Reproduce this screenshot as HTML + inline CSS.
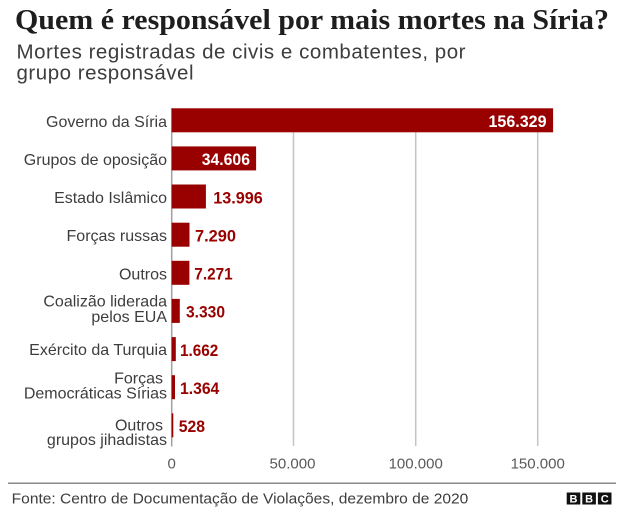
<!DOCTYPE html>
<html>
<head>
<meta charset="utf-8">
<style>
  html, body { margin: 0; padding: 0; background: #ffffff; }
  svg { display: block; }
  .sans { font-family: "Liberation Sans", "DejaVu Sans", sans-serif; }
  .serif { font-family: "Liberation Serif", "DejaVu Serif", serif; }
</style>
</head>
<body>
<svg width="620" height="512" viewBox="0 0 620 512" xmlns="http://www.w3.org/2000/svg">
  <rect x="0" y="0" width="620" height="512" fill="#ffffff"/>

  <!-- Title -->
  <text class="serif" x="15" y="29" font-size="29" font-weight="bold" fill="#1e1e1e" textLength="594" lengthAdjust="spacingAndGlyphs">Quem é responsável por mais mortes na Síria?</text>
  <!-- Subtitle -->
  <text class="sans" x="16.5" y="58.3" font-size="20.5" fill="#3d3d3d" textLength="449" lengthAdjust="spacing">Mortes registradas de civis e combatentes, por</text>
  <text class="sans" x="16.5" y="79.3" font-size="20.5" fill="#3d3d3d" textLength="177" lengthAdjust="spacing">grupo responsável</text>

  <!-- Gridlines -->
  <g stroke="#c4c4c4" stroke-width="1.5">
    <line x1="293.5" y1="132.3" x2="293.5" y2="446"/>
    <line x1="415.7" y1="132.3" x2="415.7" y2="446"/>
    <line x1="537.7" y1="132.3" x2="537.7" y2="446"/>
  </g>
  <!-- Zero axis -->
  <line x1="171.7" y1="108" x2="171.7" y2="446.5" stroke="#a0a0a0" stroke-width="1.5"/>

  <!-- Bars -->
  <g fill="#990000">
    <rect x="171.7" y="108.3" width="381.4" height="24"/>
    <rect x="171.7" y="146.4" width="84.4" height="24"/>
    <rect x="171.7" y="184.5" width="34.2" height="24"/>
    <rect x="171.7" y="222.7" width="17.8" height="24"/>
    <rect x="171.7" y="260.8" width="17.7" height="24"/>
    <rect x="171.7" y="298.9" width="8.1" height="24"/>
    <rect x="171.7" y="337.1" width="4.1" height="24"/>
    <rect x="171.7" y="375.2" width="3.3" height="24"/>
    <rect x="171.7" y="413.3" width="1.6" height="24"/>
  </g>

  <!-- Category labels -->
  <g class="sans" font-size="16" fill="#3d3d3d" text-anchor="end">
    <text x="167" y="127">Governo da Síria</text>
    <text x="167" y="165">Grupos de oposição</text>
    <text x="167" y="203">Estado Islâmico</text>
    <text x="167" y="241.2">Forças russas</text>
    <text x="167" y="279.3">Outros</text>
    <text x="167" y="306.3">Coalizão liderada</text>
    <text x="167" y="322">pelos EUA</text>
    <text x="167" y="355">Exército da Turquia</text>
    <text x="163" y="383.3">Forças</text>
    <text x="167" y="398.5">Democráticas Sírias</text>
    <text x="163" y="430.7">Outros</text>
    <text x="167" y="444.8">grupos jihadistas</text>
  </g>

  <!-- Value labels -->
  <g class="sans" font-size="16.5" font-weight="bold">
    <text x="488.5" y="127.2" fill="#ffffff" textLength="58" lengthAdjust="spacingAndGlyphs">156.329</text>
    <text x="201.7" y="165.2" fill="#ffffff" textLength="48.3" lengthAdjust="spacingAndGlyphs">34.606</text>
    <text x="213.3" y="203.3" fill="#990000" textLength="49.4" lengthAdjust="spacingAndGlyphs">13.996</text>
    <text x="195" y="241.5" fill="#990000" textLength="41" lengthAdjust="spacingAndGlyphs">7.290</text>
    <text x="194.3" y="279.6" fill="#990000" textLength="38.4" lengthAdjust="spacingAndGlyphs">7.271</text>
    <text x="186" y="317.6" fill="#990000" textLength="39" lengthAdjust="spacingAndGlyphs">3.330</text>
    <text x="180" y="355.8" fill="#990000" textLength="38.3" lengthAdjust="spacingAndGlyphs">1.662</text>
    <text x="180" y="393.9" fill="#990000" textLength="39.3" lengthAdjust="spacingAndGlyphs">1.364</text>
    <text x="178.7" y="432" fill="#990000" textLength="26.3" lengthAdjust="spacingAndGlyphs">528</text>
  </g>

  <!-- Tick labels -->
  <g class="sans" font-size="15" fill="#5a5a5a" text-anchor="middle">
    <text x="171.7" y="468.3">0</text>
    <text x="292.5" y="468.3">50.000</text>
    <text x="415.7" y="468.3">100.000</text>
    <text x="537.7" y="468.3">150.000</text>
  </g>

  <!-- Footer rule -->
  <line x1="8" y1="483.3" x2="616" y2="483.3" stroke="#8a8a8a" stroke-width="1.5"/>

  <!-- Source -->
  <text class="sans" x="11.7" y="503.3" font-size="15" fill="#3d3d3d" textLength="456.6" lengthAdjust="spacingAndGlyphs">Fonte: Centro de Documentação de Violações, dezembro de 2020</text>

  <!-- BBC logo -->
  <g>
    <rect x="566.7" y="492.5" width="13.6" height="12" fill="#111111"/>
    <rect x="582.3" y="492.5" width="13.6" height="12" fill="#111111"/>
    <rect x="597.9" y="492.5" width="13.6" height="12" fill="#111111"/>
    <g class="sans" font-size="11" font-weight="bold" fill="#ffffff" text-anchor="middle">
      <text x="573.5" y="502.6">B</text>
      <text x="589.1" y="502.6">B</text>
      <text x="604.7" y="502.6">C</text>
    </g>
  </g>
</svg>
</body>
</html>
